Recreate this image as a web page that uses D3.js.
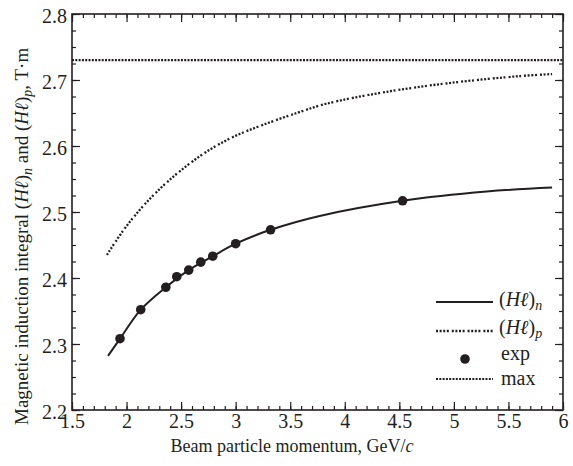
<!DOCTYPE html>
<html>
<head>
<meta charset="utf-8">
<script src="https://cdn.jsdelivr.net/npm/d3@7"></script>
<style>
  body { margin: 0; background: #fff; }
  svg { font-family: "Liberation Serif", "DejaVu Serif", serif; }
</style>
</head>
<body>
<div class="chart"></div>
<script>
// values
var nMomentum = [1.83, 1.94, 2.13, 2.36, 2.57, 2.79, 3.0, 3.32, 3.77, 4.53, 5.3, 5.9];
var nField    = [2.282, 2.308, 2.352, 2.386, 2.412, 2.433, 2.452, 2.473, 2.494, 2.517, 2.531, 2.537];

var pMomentum = [1.82, 1.97, 2.12, 2.28, 2.49, 2.73, 2.98, 3.25, 3.56, 3.83, 4.38, 4.99, 5.61, 5.9];
var pField    = [2.435, 2.472, 2.503, 2.531, 2.562, 2.591, 2.614, 2.632, 2.65, 2.664, 2.682, 2.696, 2.706, 2.709];

var expMomentum = [1.94, 2.13, 2.36, 2.46, 2.57, 2.68, 2.79, 3.0, 3.32, 4.53];
var expField    = [2.308, 2.352, 2.386, 2.402, 2.412, 2.424, 2.433, 2.452, 2.473, 2.517];

var maxField = 2.73;

var xTicks = [1.5, 2, 2.5, 3, 3.5, 4, 4.5, 5, 5.5, 6];
var yTicks = [2.2, 2.3, 2.4, 2.5, 2.6, 2.7, 2.8];

var width = 573, height = 466;
var mLeft = 72, mRight = 563, mTop = 14, mBottom = 410;

var svg = d3.select('.chart').append('svg')
	.attr('width', width)
	.attr('height', height);

var x = d3.scaleLinear().domain([1.5, 6]).range([mLeft, mRight]);
var y = d3.scaleLinear().domain([2.2, 2.8]).range([mBottom, mTop]);

var xMinor = d3.range(15, 61).map(function(d){ return d / 10; });
var yMinor = d3.range(88, 113).map(function(d){ return d / 40; });

var ink = '#231f20';

// ticks, all four sides, pointing inward
function drawAxis(axis, tr, tickLen, vals, labels) {
	var g = svg.append('g').attr('transform', tr)
		.call(axis.tickValues(vals).tickSize(tickLen).tickSizeOuter(0)
			.tickFormat(labels ? function(d){ return d3.format('')(d); } : ''));
	g.select('.domain').remove();
	g.selectAll('.tick line').attr('stroke', ink).attr('stroke-width', 1.2);
	g.selectAll('.tick text')
		.attr('fill', ink)
		.style('font-size', '20px')
		.style('font-family', '"Liberation Serif", serif');
	return g;
}

var bx = drawAxis(d3.axisBottom(x), 'translate(0,' + mBottom + ')', -4, xMinor, false);
bx = drawAxis(d3.axisBottom(x), 'translate(0,' + mBottom + ')', -8, xTicks, true);
bx.selectAll('.tick text').attr('y', 4).attr('dy', '0.71em');
drawAxis(d3.axisTop(x), 'translate(0,' + mTop + ')', -4, xMinor, false);
drawAxis(d3.axisTop(x), 'translate(0,' + mTop + ')', -8, xTicks, false);

var ly = drawAxis(d3.axisLeft(y), 'translate(' + mLeft + ',0)', -4, yMinor, false);
ly = drawAxis(d3.axisLeft(y), 'translate(' + mLeft + ',0)', -8, yTicks, true);
ly.selectAll('.tick text').attr('x', -5).attr('dy', '0.4em');
drawAxis(d3.axisRight(y), 'translate(' + mRight + ',0)', -4, yMinor, false);
drawAxis(d3.axisRight(y), 'translate(' + mRight + ',0)', -8, yTicks, false);

svg.append('rect')
	.attr('x', mLeft).attr('y', mTop)
	.attr('width', mRight - mLeft).attr('height', mBottom - mTop)
	.attr('fill', 'none').attr('stroke', ink).attr('stroke-width', 1.6);

var line = d3.line()
	.x(function(d){ return x(d[0]); })
	.y(function(d){ return y(d[1]); })
	.curve(d3.curveCatmullRom.alpha(0.5));

// max line
svg.append('line')
	.attr('x1', mLeft).attr('x2', mRight)
	.attr('y1', y(maxField)).attr('y2', y(maxField))
	.attr('stroke', ink).attr('stroke-width', 2.2)
	.attr('stroke-dasharray', '2,1.3');

var pDash = '2,1.6,2,1.6,2,1.6,2,3';

svg.append('path')
	.datum(d3.zip(pMomentum, pField))
	.attr('d', line)
	.attr('fill', 'none').attr('stroke', ink).attr('stroke-width', 2.3)
	.attr('stroke-dasharray', pDash);

svg.append('path')
	.datum(d3.zip(nMomentum, nField))
	.attr('d', line)
	.attr('fill', 'none').attr('stroke', ink).attr('stroke-width', 2);

svg.selectAll('.dot')
	.data(d3.zip(expMomentum, expField))
	.enter().append('circle')
	.attr('class', 'dot')
	.attr('cx', function(d){ return x(d[0]); })
	.attr('cy', function(d){ return y(d[1]); })
	.attr('r', 4.8)
	.attr('fill', ink);

// legend
var lg = svg.append('g');
var lx1 = 436, lx2 = 493, tx = 499;

lg.append('line').attr('x1', lx1).attr('x2', lx2).attr('y1', 302).attr('y2', 302)
	.attr('stroke', ink).attr('stroke-width', 2);
lg.append('line').attr('x1', lx1).attr('x2', lx2).attr('y1', 331).attr('y2', 331)
	.attr('stroke', ink).attr('stroke-width', 2.3).attr('stroke-dasharray', pDash);
lg.append('circle').attr('cx', 465).attr('cy', 359).attr('r', 4.8).attr('fill', ink);
lg.append('line').attr('x1', lx1).attr('x2', lx2).attr('y1', 379).attr('y2', 379)
	.attr('stroke', ink).attr('stroke-width', 2.2).attr('stroke-dasharray', '2,1.3');

function hl(g, xx, yy, sub) {
	var t = g.append('text').attr('x', xx).attr('y', yy)
		.attr('fill', ink).style('font-size', '20px');
	t.append('tspan').text('(');
	t.append('tspan').style('font-style', 'italic').text('H\u2113');
	t.append('tspan').text(')');
	t.append('tspan').style('font-style', 'italic').style('font-size', '14px')
		.attr('dy', 4).text(sub);
	return t;
}
hl(lg, tx, 306, 'n');
hl(lg, tx, 334, 'p');
lg.append('text').attr('x', tx + 2).attr('y', 360).attr('fill', ink)
	.style('font-size', '20px').text('exp');
lg.append('text').attr('x', tx + 2).attr('y', 385).attr('fill', ink)
	.style('font-size', '20px').text('max');

// axis titles
svg.append('text')
	.attr('x', 292).attr('y', 452)
	.attr('text-anchor', 'middle').attr('fill', ink)
	.style('font-size', '18px')
	.html('Beam particle momentum, GeV/<tspan font-style="italic">c</tspan>');

var yt = svg.append('text')
	.attr('transform', 'translate(28,' + 425 + ') rotate(-90)')
	.attr('fill', ink).style('font-size', '19px');
yt.append('tspan').text('Magnetic induction integral (');
yt.append('tspan').style('font-style', 'italic').text('H\u2113');
yt.append('tspan').text(')');
yt.append('tspan').style('font-style', 'italic').style('font-size', '14px').attr('dy', 4).text('n');
yt.append('tspan').attr('dy', -4).text(' and (');
yt.append('tspan').style('font-style', 'italic').text('H\u2113');
yt.append('tspan').text(')');
yt.append('tspan').style('font-style', 'italic').style('font-size', '14px').attr('dy', 4).text('p');
yt.append('tspan').attr('dy', -4).text(', T\u00b7m');
</script>
</body>
</html>
